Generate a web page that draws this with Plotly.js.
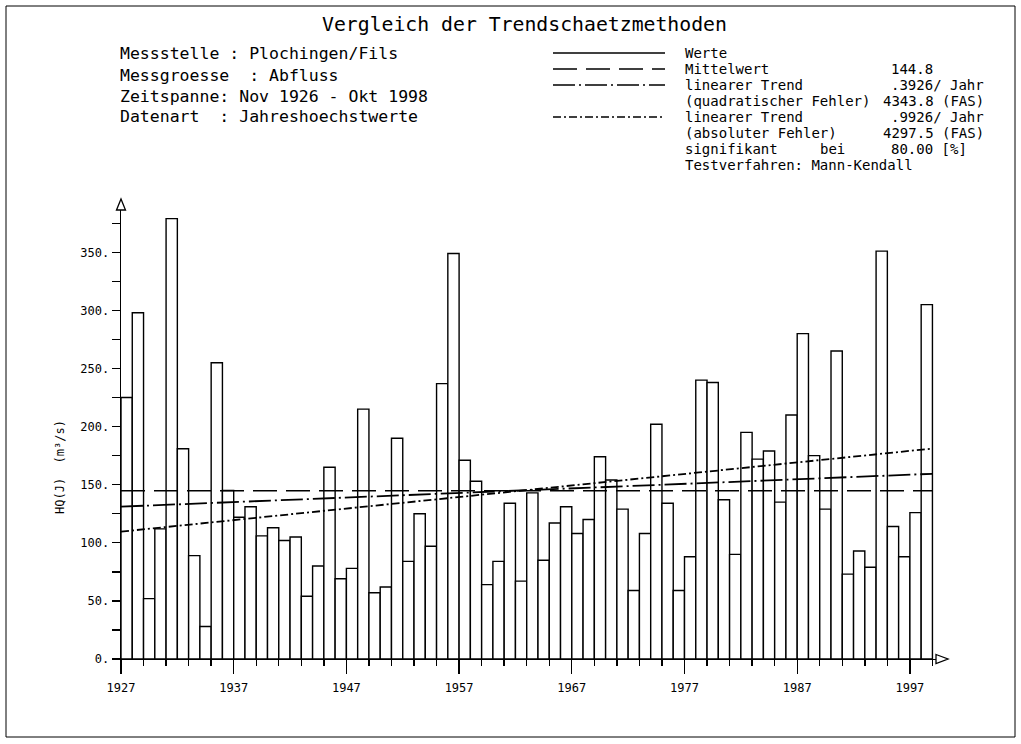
<!DOCTYPE html>
<html>
<head>
<meta charset="utf-8">
<script src="https://cdn.plot.ly/plotly-3.0.1.min.js"></script>
<style>body{margin:0;background:#fff;} #chart{width:1021px;height:744px;}</style>
</head>
<body>
<div id="chart"></div>
<script>
// ---- data ----
const years = [1927,1928,1929,1930,1931,1932,1933,1934,1935,1936,
  1937,1938,1939,1940,1941,1942,1943,1944,1945,1946,
  1947,1948,1949,1950,1951,1952,1953,1954,1955,1956,
  1957,1958,1959,1960,1961,1962,1963,1964,1965,1966,
  1967,1968,1969,1970,1971,1972,1973,1974,1975,1976,
  1977,1978,1979,1980,1981,1982,1983,1984,1985,1986,
  1987,1988,1989,1990,1991,1992,1993,1994,1995,1996,
  1997,1998];
const hqValues = [225,298,52,112,379,181,89,28,255,145,
  122,131,106,113,102,105,54,80,165,69,
  78,215,57,62,190,84,125,97,237,349,
  171,153,64,84,134,67,143,85,117,131,
  108,120,174,154,129,59,108,202,134,59,
  88,240,238,137,90,195,172,179,135,210,
  280,175,129,265,73,93,79,351,114,88,
  126,305];
const meanValue = 144.8;
const lineYears = [1927, 1999];
const meanLine = [meanValue, meanValue];
const trendQuadratic = [131.1, 159.4];   // slope .3926 / Jahr
const trendAbsolute = [109.6, 181.1];    // slope .9926 / Jahr
const yTickVals = [0,25,50,75,100,125,150,175,200,225,250,275,300,325,350,375];
const yTickText = ['0.','','50.','','100.','','150.','','200.','','250.','','300.','','350.',''];
const xTickVals = [1927,1937,1947,1957,1967,1977,1987,1997];
const xTickText = ['1927','1937','1947','1957','1967','1977','1987','1997'];

const titleText = 'Vergleich der Trendschaetzmethoden';
const infoLines = ['Messstelle : Plochingen/Fils','Messgroesse\u00a0 : Abfluss','Zeitspanne: Nov 1926 - Okt 1998','Datenart\u00a0 : Jahreshoechstwerte'];
const legendLabels = ['Werte','Mittelwert','linearer Trend','(quadratischer Fehler)','linearer Trend','(absoluter Fehler)','signifikant','Testverfahren: Mann-Kendall'];
const legendValues = [null,'144.8','.3926/ Jahr','4343.8 (FAS)','.9926/ Jahr','4297.5 (FAS)','80.00 [%]',null];

// ---- layout geometry ----
const W = 1021, H = 744;
const L = 121, R = 85, T = 210, B = 85;
const PW = W - L - R, PH = H - T - B;
const px = x => (x - L) / PW;
const py = y => (H - B - y) / PH;
const FONT = 'DejaVu Sans Mono, monospace';
const dashQuad = '22px,4px,2px,4px';
const dashAbs = '8px,3px,2px,3px';
const dashMean = '24px,9px';
const CW = 8.43; // char width at 14px mono

const traces = [
  {type:'bar', x: years, y: hqValues, offset: 0, width: 1,
   marker:{color:'#ffffff', line:{color:'#000000', width:1.4}}, hoverinfo:'x+y', showlegend:false},
  {type:'scatter', mode:'lines', x: lineYears, y: meanLine, line:{color:'#000', width:1.4, dash: dashMean}, showlegend:false},
  {type:'scatter', mode:'lines', x: lineYears, y: trendQuadratic, line:{color:'#000', width:1.8, dash: dashQuad}, showlegend:false},
  {type:'scatter', mode:'lines', x: lineYears, y: trendAbsolute, line:{color:'#000', width:1.8, dash: dashAbs}, showlegend:false}
];

const annotations = [];
annotations.push({text: titleText, xref:'paper', yref:'paper', x: px(524), y: py(24), xanchor:'center', yanchor:'middle', showarrow:false, font:{family:FONT, size:19.8, color:'#000'}});
const infoY = [53, 75, 96, 117];
infoLines.forEach((t,i)=>annotations.push({text:t, xref:'paper', yref:'paper', x: px(118), y: py(infoY[i]), xanchor:'left', yanchor:'middle', showarrow:false, font:{family:FONT, size:16.5, color:'#000'}}));
const legY = [53,69,85,101,117,133,149,165];
const col = 889;
const valX = [null, col, col, col - CW, col, col - CW, col, null];
legendLabels.forEach((t,i)=>{
  annotations.push({text:t, xref:'paper', yref:'paper', x: px(683), y: py(legY[i]), xanchor:'left', yanchor:'middle', showarrow:false, font:{family:FONT, size:14, color:'#000'}});
  if (legendValues[i]) annotations.push({text:legendValues[i], xref:'paper', yref:'paper', x: px(valX[i]), y: py(legY[i]), xanchor:'left', yanchor:'middle', showarrow:false, font:{family:FONT, size:14, color:'#000'}});
});
annotations.push({text:'bei', xref:'paper', yref:'paper', x: px(818), y: py(149), xanchor:'left', yanchor:'middle', showarrow:false, font:{family:FONT, size:14, color:'#000'}});
annotations.push({text:'HQ(J)\u00a0 (m\u00b3/s)', xref:'paper', yref:'paper', x: px(60), y: py(467), xanchor:'center', yanchor:'middle', textangle:-90, showarrow:false, font:{family:FONT, size:12, color:'#000'}});

const shapes = [
  // frame
  {type:'rect', xref:'paper', yref:'paper', x0: px(6), x1: px(1015), y0: py(6), y1: py(737), line:{color:'#000', width:1}},
  // axis arrows
  {type:'path', xref:'paper', yref:'paper', path:`M ${px(936)},${py(654.5)} L ${px(948)},${py(659)} L ${px(936)},${py(663.5)} Z`, line:{color:'#000', width:1.3}, fillcolor:'#fff'},
  {type:'path', xref:'paper', yref:'paper', path:`M ${px(116.5)},${py(210)} L ${px(121)},${py(199)} L ${px(125.5)},${py(210)} Z`, line:{color:'#000', width:1.3}, fillcolor:'#fff'},
  // legend samples
  {type:'line', xref:'paper', yref:'paper', x0: px(553), x1: px(665), y0: py(53), y1: py(53), line:{color:'#000', width:1.4}},
  {type:'line', xref:'paper', yref:'paper', x0: px(553), x1: px(665), y0: py(69), y1: py(69), line:{color:'#000', width:1.4, dash: dashMean}},
  {type:'line', xref:'paper', yref:'paper', x0: px(553), x1: px(665), y0: py(85), y1: py(85), line:{color:'#000', width:1.4, dash: dashQuad}},
  {type:'line', xref:'paper', yref:'paper', x0: px(553), x1: px(665), y0: py(117), y1: py(117), line:{color:'#000', width:1.4, dash: dashAbs}}
];

const layout = {
  width: W, height: H,
  margin:{l:L, r:R, t:T, b:B, pad:0},
  paper_bgcolor:'#fff', plot_bgcolor:'#fff',
  showlegend:false,
  bargap:0,
  xaxis:{range:[1927, 1927 + PW/11.27], showgrid:false, zeroline:false, showline:true, linecolor:'#000', linewidth:1.4,
         tickmode:'array', tickvals:xTickVals, ticktext:xTickText, ticks:'outside', ticklen:14, tickwidth:1.4, tickcolor:'#000',
         ticklabelstandoff:3,
         minor:{tickmode:'linear', tick0:1927, dtick:2, ticks:'outside', ticklen:6, tickwidth:1.4, tickcolor:'#000'},
         tickfont:{family:FONT, size:12, color:'#000'}, fixedrange:true},
  yaxis:{range:[0, PH/1.162], showgrid:false, zeroline:false, showline:true, linecolor:'#000', linewidth:1.4,
         tickmode:'array', tickvals:yTickVals, ticktext:yTickText, ticks:'outside', ticklen:8, tickwidth:1.4, tickcolor:'#000',
         tickfont:{family:FONT, size:12, color:'#000'}, fixedrange:true},
  annotations: annotations,
  shapes: shapes
};

Plotly.newPlot('chart', traces, layout, {staticPlot:true, displayModeBar:false});
</script>
</body>
</html>
